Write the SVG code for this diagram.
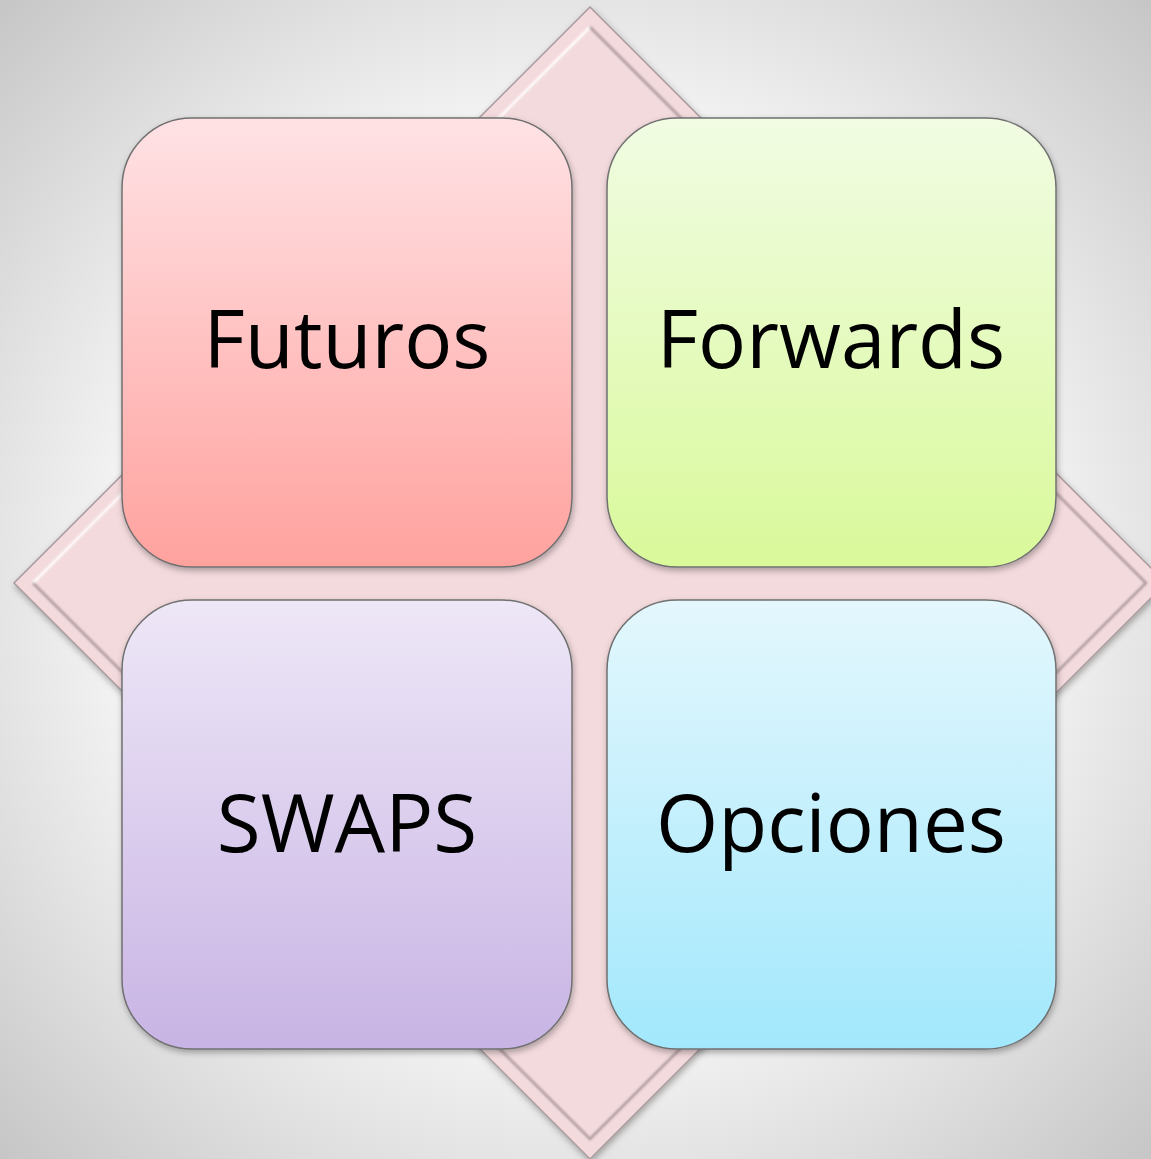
<svg xmlns="http://www.w3.org/2000/svg" width="1151" height="1159" viewBox="0 0 1151 1159">
<style>
.box{stroke:#707070;stroke-width:1.5;filter:url(#sh)}
.lbl{font-family:"Open Sans","Noto Sans",sans-serif;font-size:80px;fill:#000;text-anchor:middle}
</style>
<defs>
<radialGradient id="bg" cx="50%" cy="50%" r="72%">
<stop offset="0" stop-color="#ffffff"/>
<stop offset="0.55" stop-color="#f4f4f4"/>
<stop offset="1" stop-color="#c4c4c4"/>
</radialGradient>
<linearGradient id="gF" x1="0" y1="0" x2="0" y2="1"><stop offset="0" stop-color="#ffe2e5"/><stop offset="1" stop-color="#ffa29e"/></linearGradient>
<linearGradient id="gW" x1="0" y1="0" x2="0" y2="1"><stop offset="0" stop-color="#f1fce3"/><stop offset="1" stop-color="#d9f99a"/></linearGradient>
<linearGradient id="gS" x1="0" y1="0" x2="0" y2="1"><stop offset="0" stop-color="#eee7f7"/><stop offset="1" stop-color="#c8b4e4"/></linearGradient>
<linearGradient id="gO" x1="0" y1="0" x2="0" y2="1"><stop offset="0" stop-color="#e4f7fd"/><stop offset="1" stop-color="#a2e8fc"/></linearGradient>
<filter id="sh" x="-10%" y="-10%" width="120%" height="120%"><feDropShadow dx="1" dy="3" stdDeviation="3" flood-color="#000" flood-opacity="0.3"/></filter>
<filter id="bl"><feGaussianBlur stdDeviation="1"/></filter>
</defs>
<rect width="1151" height="1159" fill="url(#bg)"/>
<g id="diamond">
<polygon points="590,7 1166,583 590,1159 14,583" fill="#f3dadd" stroke="#a89a9c" stroke-width="1.5" filter="url(#sh)"/>
<g filter="url(#bl)" fill="none" stroke-width="2.5">
<polyline points="33,583 590,27" stroke="#ffffff"/>
<polyline points="590,27 1146,583 590,1139 33,583" stroke="#9a8a8d" stroke-opacity="0.8"/>
</g>
</g>
<g id="futuros">
<rect class="box" x="122" y="118" width="450" height="449" rx="70" fill="url(#gF)"/>
<text class="lbl" x="347" y="368">Futuros</text>
</g>
<g id="forwards">
<rect class="box" x="607" y="118" width="449" height="449" rx="70" fill="url(#gW)"/>
<text class="lbl" x="831" y="368">Forwards</text>
</g>
<g id="swaps">
<rect class="box" x="122" y="600" width="450" height="449" rx="70" fill="url(#gS)"/>
<text class="lbl" x="347" y="852">SWAPS</text>
</g>
<g id="opciones">
<rect class="box" x="607" y="600" width="449" height="449" rx="70" fill="url(#gO)"/>
<text class="lbl" x="831" y="852">Opciones</text>
</g>
<g id="connectors"/>
</svg>
